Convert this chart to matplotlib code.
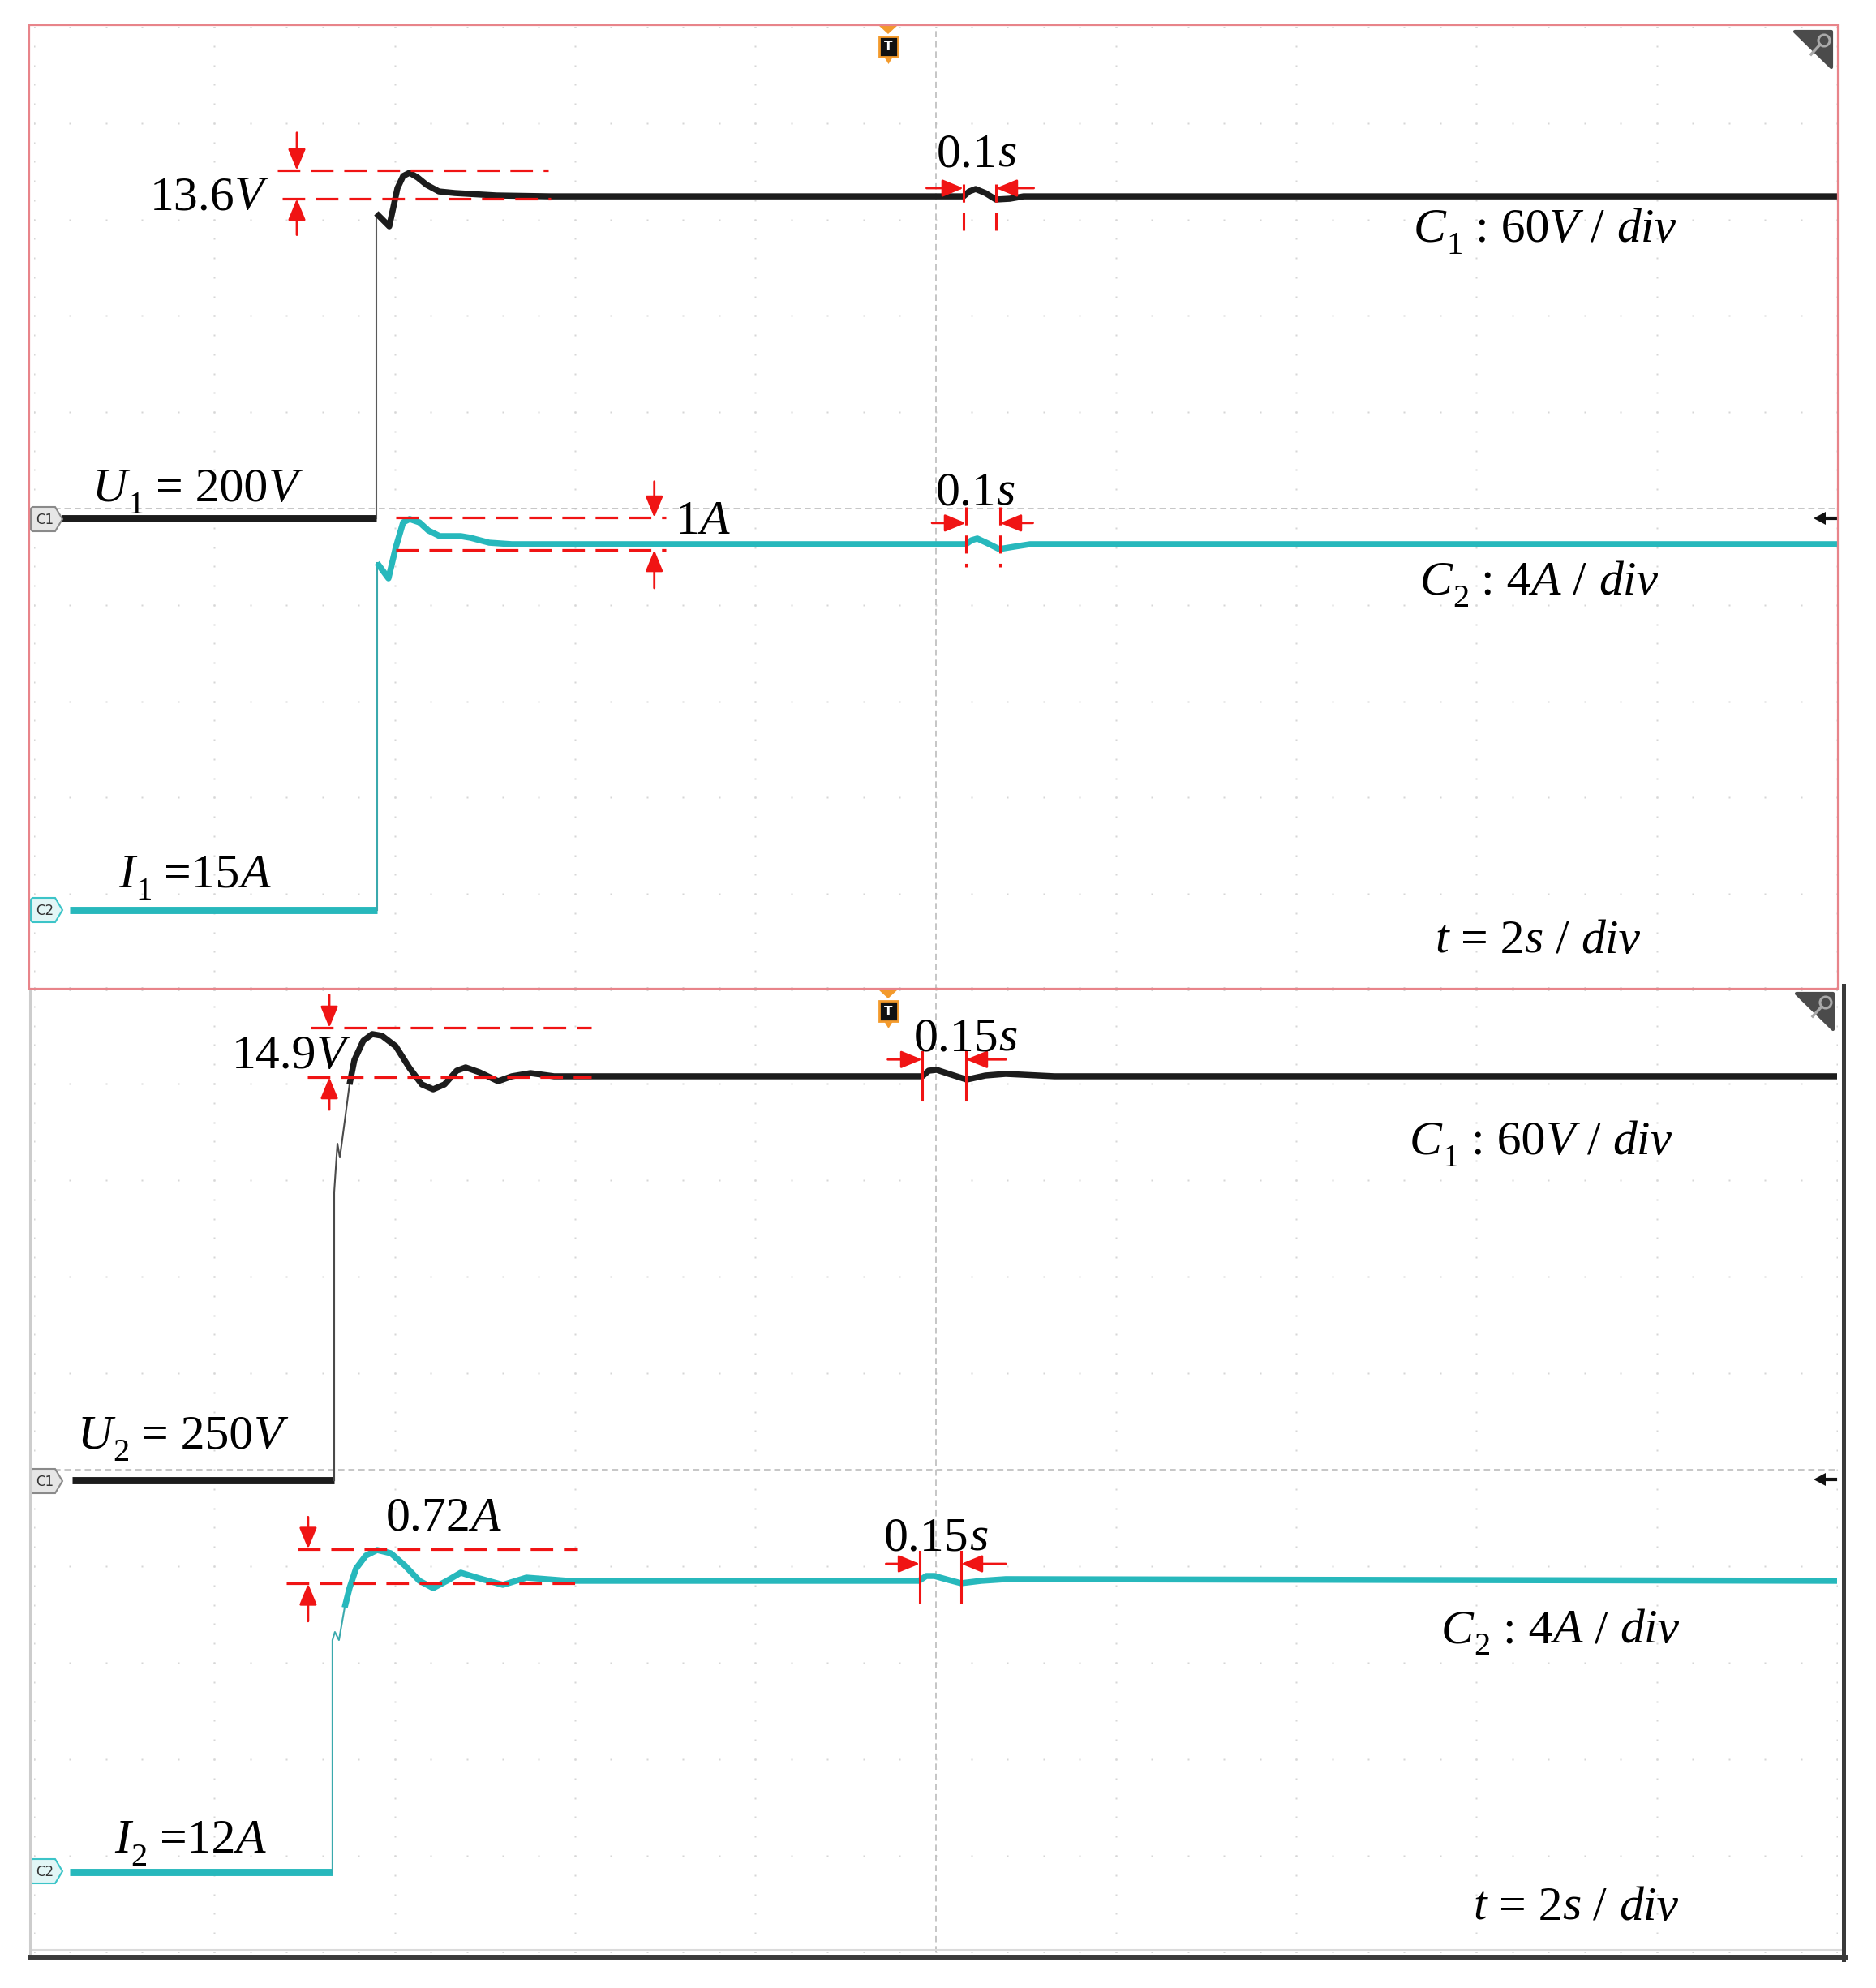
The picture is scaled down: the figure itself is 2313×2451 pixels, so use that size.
"""Oscilloscope capture: load-step response of output voltage (C1) and current (C2),
two runs stacked (U1=200V / I1=15A on top, U2=250V / I2=12A below)."""

import numpy as np
import matplotlib
matplotlib.use("Agg")
import matplotlib.pyplot as plt
from matplotlib.patches import Polygon, Rectangle, Ellipse
from matplotlib.lines import Line2D
from matplotlib.transforms import Affine2D

plt.rcParams.update({
    "font.family": "Liberation Serif",
    "lines.scale_dashes": False,
})

W, H = 2313, 2451

# ── waveform data: x = time (s, 2 s/div, trigger at 0), y = screen divisions ──
TOP_C1_T = [-9.69, -6.204, -6.204, -6.060, -5.969, -5.906, -5.834, -5.744, -5.645, -5.510,
            -5.330, -4.871, -4.269, 0.310, 0.373, 0.445, 0.553, 0.670, 0.823, 0.976, 10.0]
TOP_C1_Y = [-0.10, -0.10, 3.064, 2.929, 3.325, 3.451, 3.485, 3.434, 3.359, 3.291,
            3.274, 3.249, 3.240, 3.240, 3.291, 3.316, 3.274, 3.207, 3.215, 3.240, 3.240]

TOP_C2_T = [-9.60, -6.195, -6.195, -6.069, -5.988, -5.906, -5.834, -5.726, -5.627, -5.501,
            -5.267, -5.159, -4.952, -4.700, 0.337, 0.400, 0.463, 0.580, 0.706, 0.868, 1.048, 10.0]
TOP_C2_Y = [-4.17, -4.17, -0.564, -0.724, -0.404, -0.143, -0.109, -0.143, -0.227, -0.286,
            -0.286, -0.303, -0.354, -0.370, -0.370, -0.328, -0.311, -0.362, -0.421, -0.396, -0.370, -0.370]

BOT_C1_T = [-9.58, -6.671, -6.671, -6.635, -6.608, -6.555, -6.501, -6.447, -6.348, -6.249,
            -6.141, -5.988, -5.834, -5.699, -5.573, -5.447, -5.312, -5.213, -5.060, -4.853,
            -4.700, -4.493, -4.232, -0.148, -0.076, 0.013, 0.148, 0.346, 0.553, 0.778, 1.318, 10.0]
BOT_C1_Y = [-0.11, -0.11, 2.874, 3.378, 3.235, 3.605, 3.992, 4.244, 4.445, 4.513,
            4.496, 4.387, 4.160, 3.992, 3.941, 3.992, 4.134, 4.168, 4.118, 4.025,
            4.076, 4.109, 4.076, 4.076, 4.134, 4.143, 4.101, 4.042, 4.084, 4.101, 4.076, 4.076]

BOT_C2_T = [-9.60, -6.690, -6.690, -6.663, -6.618, -6.555, -6.501, -6.429, -6.321, -6.195,
            -6.042, -5.888, -5.726, -5.573, -5.420, -5.267, -5.060, -4.799, -4.538, -4.080,
            -0.184, -0.103, -0.013, 0.148, 0.283, 0.508, 0.778, 10.0]
BOT_C2_Y = [-4.17, -4.17, -1.765, -1.681, -1.765, -1.429, -1.227, -1.025, -0.891, -0.832,
            -0.866, -0.992, -1.151, -1.227, -1.151, -1.067, -1.126, -1.193, -1.118, -1.151,
            -1.151, -1.101, -1.101, -1.143, -1.176, -1.151, -1.134, -1.151]

# overshoot marks: (y_peak, t_peak0, t_peak1, y_final, t_final0, t_final1, t_arrow, y_tail_hi, y_tail_lo)
TOP_OVERSHOOT = [(3.51, -7.30, -4.30, 3.215, -7.25, -4.27, -7.085, 3.90, 2.84),
                 (-0.093, -5.99, -2.99, -0.43, -5.99, -2.99, -3.12, 0.28, -0.825)]
BOT_OVERSHOOT = [(4.58, -6.93, -3.82, 4.067, -6.97, -3.82, -6.725, 4.92, 3.73),
                 (-0.82, -7.08, -3.97, -1.18, -7.20, -3.97, -6.96, -0.49, -1.57)]

# settling marks: (t_start, t_end, y_top, y_bottom, y_arrow, t_tail_left, t_tail_right)
TOP_SETTLE = [(0.31, 0.67, 3.37, 2.85, 3.325, -0.10, 1.09),
              (0.337, 0.715, 0.017, -0.61, -0.15, -0.04, 1.08)]
BOT_SETTLE = [(-0.148, 0.337, 4.33, 3.83, 4.25, -0.53, 0.78),
              (-0.175, 0.283, -0.85, -1.37, -0.975, -0.55, 0.78)]

# labels: (t_left, y_baseline, [(text, style)]) style: r=roman, i=italic, s=subscript
TOP_LABELS = [(-8.72, 3.106, [("13.6", "r"), ("V", "i")]),
              (-9.36, 0.076, [("U", "i"), ("1", "s"), (" = 200", "r"), ("V", "i")]),
              (-2.89, -0.26, [("1", "r"), ("A", "i")]),
              (-9.06, -3.93, [("I", "i"), ("1", "s"), (" =15", "r"), ("A", "i")]),
              (0.014, 3.55, [("0.1", "r"), ("s", "i")]),
              (0.0, 0.04, [("0.1", "r"), ("s", "i")]),
              (5.30, 2.77, [("C", "i"), ("1", "s"), (" : 60", "r"), ("V", "i"), (" / ", "r"), ("div", "i")]),
              (5.37, -0.89, [("C", "i"), ("2", "s"), (" : 4", "r"), ("A", "i"), (" / ", "r"), ("div", "i")]),
              (5.54, -4.61, [("t", "i"), (" = 2", "r"), ("s", "i"), (" / ", "r"), ("div", "i")])]
BOT_LABELS = [(-7.81, 4.16, [("14.9", "r"), ("V", "i")]),
              (-0.24, 4.34, [("0.15", "r"), ("s", "i")]),
              (5.26, 3.27, [("C", "i"), ("1", "s"), (" : 60", "r"), ("V", "i"), (" / ", "r"), ("div", "i")]),
              (-9.52, 0.22, [("U", "i"), ("2", "s"), (" = 250", "r"), ("V", "i")]),
              (-6.10, -0.63, [("0.72", "r"), ("A", "i")]),
              (-0.57, -0.84, [("0.15", "r"), ("s", "i")]),
              (5.61, -1.79, [("C", "i"), ("2", "s"), (" : 4", "r"), ("A", "i"), (" / ", "r"), ("div", "i")]),
              (-9.11, -3.97, [("I", "i"), ("2", "s"), (" =12", "r"), ("A", "i")]),
              (5.96, -4.66, [("t", "i"), (" = 2", "r"), ("s", "i"), (" / ", "r"), ("div", "i")])]

# ── styles ─────────────────────────────────────────────────────────────────────
C1_COLOR = "#1c1c1c"
C2_COLOR = "#27b8bc"
RED = "#f01414"
GRID = "#d6d6d6"
CENTER = "#bcbcbc"
FS = 43

fig = plt.figure(figsize=(W / 100, H / 100), dpi=100)
fig.patch.set_facecolor("white")
PIX = Affine2D().scale(1 / W, -1 / H).translate(0, 1) + fig.transFigure

ax_top = fig.add_axes([42 / W, 1 - 1221 / H, 2223 / W, 1188 / H])
ax_bot = fig.add_axes([42 / W, 1 - 2407 / H, 2223 / W, 1190 / H])


def graticule(ax):
    ys = np.linspace(-5, 5, 51)
    ts = np.linspace(-10, 10, 51)
    for tv in np.arange(-10, 10.1, 2):
        if abs(tv) < 1e-9:
            continue
        ax.plot(np.full_like(ys, tv), ys, ls="none", marker="s", ms=1.7,
                color=GRID, mec="none", zorder=1)
    for yv in np.arange(-5, 5.1, 1):
        if abs(yv) < 1e-9:
            continue
        ax.plot(ts, np.full_like(ts, yv), ls="none", marker="s", ms=1.7,
                color=GRID, mec="none", zorder=1)
    ax.axvline(0, color=CENTER, lw=1.2, ls=(0, (5.5, 3.5)), zorder=1)
    ax.axhline(0, color=CENTER, lw=1.2, ls=(0, (5.5, 3.5)), zorder=1)


def trace(ax, t, y, thick_from, color, step_color):
    ax.plot(t[:2], y[:2], color=color, lw=6.4, solid_capstyle="butt", zorder=3)
    ax.plot(t[1:thick_from + 1], y[1:thick_from + 1], color=step_color, lw=1.5,
            solid_joinstyle="round", zorder=3)
    ax.plot(t[thick_from:], y[thick_from:], color=color, lw=5.4,
            solid_joinstyle="round", solid_capstyle="butt", zorder=3)


def arrow(ax, head, tail):
    ax.annotate("", xy=head, xytext=tail, zorder=6,
                arrowprops=dict(arrowstyle="-|>,head_length=0.8,head_width=0.33",
                                color=RED, lw=2.0, mutation_scale=20,
                                shrinkA=0, shrinkB=0))


def overshoot(ax, y_hi, a0, a1, y_lo, b0, b1, t_arr, tail_hi, tail_lo):
    dash = (0, (20, 9.5))
    ax.plot([a0, a1], [y_hi, y_hi], color=RED, lw=2.3, ls=dash, zorder=5)
    ax.plot([b0, b1], [y_lo, y_lo], color=RED, lw=2.3, ls=dash, zorder=5)
    arrow(ax, (t_arr, y_hi), (t_arr, tail_hi))
    arrow(ax, (t_arr, y_lo), (t_arr, tail_lo))


def settle(ax, t0, t1, y_a, y_b, y_arr, tail_l, tail_r, dashed):
    ls = (0, (16, 9)) if dashed else "-"
    for tv in (t0, t1):
        ax.plot([tv, tv], [y_a, y_b], color=RED, lw=2.2, ls=ls, zorder=5)
    arrow(ax, (t0, y_arr), (tail_l, y_arr))
    arrow(ax, (t1, y_arr), (tail_r, y_arr))


def rich(ax, t, y, parts):
    """Chain text pieces (roman / italic / subscript) left to right on one baseline."""
    txt, st = parts[0]
    base = ax.text(t, y, txt, fontsize=FS, style="italic" if st == "i" else "normal",
                   ha="left", va="baseline", zorder=7)
    prev = base
    for txt, st in parts[1:]:
        sub = st == "s"
        prev = ax.annotate(txt, xy=(1, 0), xycoords=(prev, base),
                           xytext=(0.5 if sub else 0, -8 if sub else 0),
                           textcoords="offset points",
                           fontsize=FS * 0.68 if sub else FS,
                           style="italic" if st == "i" else "normal",
                           ha="left", va="bottom", zorder=7, annotation_clip=False)


for ax in (ax_top, ax_bot):
    ax.set_xlim(-10, 10)
    ax.set_ylim(-5, 5)
    ax.set_axis_off()
    graticule(ax)

trace(ax_top, TOP_C1_T, TOP_C1_Y, 2, C1_COLOR, "#5a5a5a")
trace(ax_top, TOP_C2_T, TOP_C2_Y, 2, C2_COLOR, "#3aa9ad")
trace(ax_bot, BOT_C1_T, BOT_C1_Y, 6, C1_COLOR, "#4a4a4a")
trace(ax_bot, BOT_C2_T, BOT_C2_Y, 5, C2_COLOR, "#3aa9ad")

for args in TOP_OVERSHOOT:
    overshoot(ax_top, *args)
for args in BOT_OVERSHOOT:
    overshoot(ax_bot, *args)
for args in TOP_SETTLE:
    settle(ax_top, *args, dashed=True)
for args in BOT_SETTLE:
    settle(ax_bot, *args, dashed=False)
for t, y, parts in TOP_LABELS:
    rich(ax_top, t, y, parts)
for t, y, parts in BOT_LABELS:
    rich(ax_bot, t, y, parts)


# ── scope UI decorations (reference pixel coordinates) ─────────────────────────
def channel_tag(cy, name, face, edge):
    pts = [(40, cy - 15), (68, cy - 15), (77, cy), (68, cy + 15), (40, cy + 15),
           (38, cy + 13), (38, cy - 13)]
    fig.add_artist(Polygon(pts, closed=True, transform=PIX, facecolor=face,
                           edgecolor=edge, lw=1.5, zorder=8))
    fig.text(55 / W, 1 - (cy + 1) / H, name, fontsize=12, family="DejaVu Sans",
             color="#333333", ha="center", va="center", zorder=9)


def trigger_tag(y0):
    fig.add_artist(Polygon([(1083, y0), (1107, y0), (1095, y0 + 11)], transform=PIX,
                           facecolor="#f39a2c", edgecolor="none", zorder=8))
    fig.add_artist(Rectangle((1084, y0 + 14), 23, 25, transform=PIX, facecolor="#111111",
                             edgecolor="#f39a2c", lw=2, zorder=8))
    fig.add_artist(Polygon([(1090, y0 + 39), (1101, y0 + 39), (1095.5, y0 + 48)],
                           transform=PIX, facecolor="#f39a2c", edgecolor="none", zorder=8))
    fig.text(1095.5 / W, 1 - (y0 + 27) / H, "T", fontsize=11, family="DejaVu Sans",
             weight="bold", color="white", ha="center", va="center", zorder=9)


def zoom_icon(x0, y0):
    fig.add_artist(Polygon([(x0, y0), (x0 + 45, y0), (x0 + 45, y0 + 44)], transform=PIX,
                           facecolor="#4b4b4b", edgecolor="#4b4b4b", lw=3,
                           joinstyle="round", zorder=8))
    fig.add_artist(Ellipse((x0 + 36, y0 + 11), 14, 14, transform=PIX, facecolor="none",
                           edgecolor="#a9a9a9", lw=2.2, zorder=9))
    fig.add_artist(Line2D([x0 + 31, x0 + 20], [y0 + 16, y0 + 28], transform=PIX,
                          color="#a9a9a9", lw=2.5, zorder=9))


def level_arrow(cy):
    fig.add_artist(Polygon([(2236, cy), (2251, cy - 8), (2251, cy + 8)], transform=PIX,
                           facecolor="#111111", edgecolor="none", zorder=8))
    fig.add_artist(Line2D([2249, 2263], [cy, cy], transform=PIX, color="#111111",
                          lw=3, zorder=8))


channel_tag(640, "C1", "#e6e6e6", "#8a8a8a")
channel_tag(1122, "C2", "#e2f6f6", "#3cc4c8")
channel_tag(1826, "C1", "#e6e6e6", "#8a8a8a")
channel_tag(2307, "C2", "#e2f6f6", "#3cc4c8")
trigger_tag(31)
trigger_tag(1220)
zoom_icon(2213, 39)
zoom_icon(2215, 1225)
level_arrow(639)
level_arrow(1824)

# bottom capture frame (light left edge, dark shadowed right/bottom edges)
fig.add_artist(Line2D([37, 37], [1219, 2410], transform=PIX, color="#cdcdcd", lw=2.2, zorder=8))
fig.add_artist(Line2D([40, 2270], [2404, 2404], transform=PIX, color="#dadada", lw=1.5, zorder=8))
fig.add_artist(Line2D([37, 2276], [2413, 2413], transform=PIX, color="#3a3a3a", lw=4.3, zorder=8))
fig.add_artist(Line2D([2273, 2273], [1215, 2416], transform=PIX, color="#3a3a3a", lw=3.6, zorder=8))

# top capture frame (pink)
fig.add_artist(Rectangle((36, 31), 2230, 1188, transform=PIX, facecolor="none",
                         edgecolor="#e8848a", lw=1.6, zorder=10))

fig.savefig("out.png", dpi=100, facecolor="white")
